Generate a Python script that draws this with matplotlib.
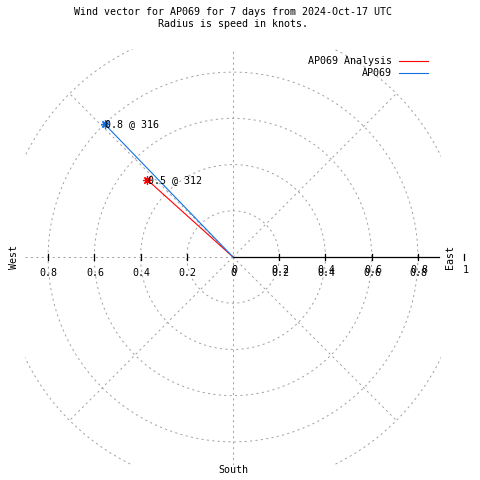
import numpy as np
import matplotlib
matplotlib.use('Agg')
import matplotlib.pyplot as plt

# data
stations = ['AP069 Analysis', 'AP069']
speeds = [0.5, 0.8]          # knots
directions = [312, 316]      # degrees, compass bearing
colors = ['#ff0000', '#1372e6']

ring_radii = [0.2, 0.4, 0.6, 0.8, 1.0]
spoke_angles = [45, 135, 225, 315]
xtick_vals = [-0.8, -0.6, -0.4, -0.2, 0, 0.2, 0.4, 0.6, 0.8]
rtick_vals = [0, 0.2, 0.4, 0.6, 0.8, 1.0]

title1 = 'Wind vector for AP069 for 7 days from 2024-Oct-17 UTC'
title2 = 'Radius is speed in knots.'


def fmt(v):
    return '%g' % abs(v)


def main():
    fs = 7.2
    grid_c = '#a0a0a0'
    plt.rc('font', family='DejaVu Sans Mono', size=fs)
    plt.rc('lines', scale_dashes=False)

    fig = plt.figure(figsize=(4.8, 4.8), dpi=100)
    ax = fig.add_axes([25/480, 15/480, 416/480, 416/480])
    ax.set_xlim(-0.9, 0.9)
    ax.set_ylim(-0.9, 0.9)
    ax.set_axis_off()

    dash = (0, (1.5, 2.4))
    lw = 0.7

    # grid rings
    t = np.linspace(0, 2*np.pi, 721)
    for r in ring_radii:
        ax.plot(r*np.cos(t), r*np.sin(t), color=grid_c, lw=lw, ls=dash)
    # spokes
    for a in spoke_angles:
        b = np.deg2rad(a)
        ax.plot([0, np.sin(b)], [0, np.cos(b)], color=grid_c, lw=lw, ls=dash)
    # axis grid lines
    ax.plot([0, 0], [-0.9, 0.9], color=grid_c, lw=lw, ls=dash)
    ax.plot([-0.9, 0], [0, 0], color=grid_c, lw=lw, ls=dash)
    ax.plot([0, 0.89], [0, 0], color='black', lw=0.9)

    # tick marks
    for v in xtick_vals + [1.0]:
        if v == 0:
            continue
        ax.plot([v, v], [-0.013, 0.013], color='black', lw=0.9, clip_on=False)

    # tick labels (gnuplot prints the r-axis labels over the x-axis ones)
    for v in xtick_vals:
        ax.annotate(fmt(v), (v, 0), xytext=(0.5, -11.5), textcoords='offset points',
                    ha='center', va='center', fontsize=fs, annotation_clip=False)
    for v in rtick_vals:
        ax.annotate(fmt(v), (v, 0), xytext=(1.0, -9.6), textcoords='offset points',
                    ha='center', va='center', fontsize=fs, annotation_clip=False)

    # wind vectors
    for name, spd, d, c in zip(stations, speeds, directions, colors):
        b = np.deg2rad(d)
        x, y = spd*np.sin(b), spd*np.cos(b)
        ax.plot([0, x], [0, y], color=c, lw=0.8, label=name)
        ax.plot([x], [y], color=c, marker=(8, 2, 0), ms=6, mew=0.9, ls='none')
        ax.annotate('%g @ %d' % (spd, d), (x, y), xytext=(0.4, 0),
                    textcoords='offset points', ha='left', va='center', fontsize=fs)

    # compass labels
    fig.text(450/480, 1-257/480, 'East', rotation=90, ha='center', va='center')
    fig.text(14/480, 1-257/480, 'West', rotation=90, ha='center', va='center')
    fig.text(233/480, 1-470/480, 'South', ha='center', va='center')

    fig.text(233/480, 1-12/480, title1, ha='center', va='center')
    fig.text(233/480, 1-24/480, title2, ha='center', va='center')

    fig.legend(loc='upper right', bbox_to_anchor=(428/480, 1-56/480),
               bbox_transform=fig.transFigure, frameon=False, markerfirst=False,
               handlelength=2.9, handletextpad=0.7, labelspacing=0.25,
               borderpad=0, borderaxespad=0, fontsize=fs)

    fig.savefig('out.png', dpi=100)
    plt.close()


if __name__ == "__main__":
    main()
